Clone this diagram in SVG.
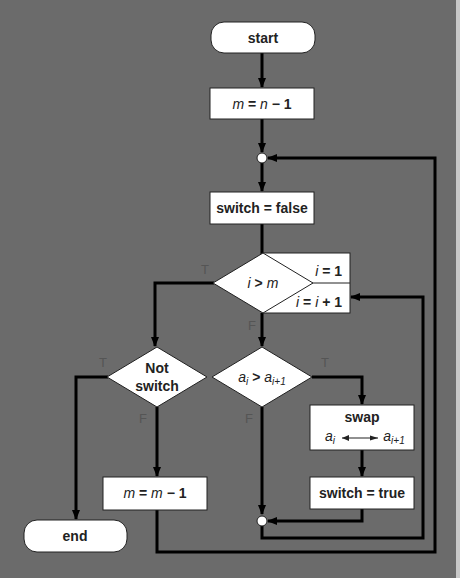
<svg xmlns="http://www.w3.org/2000/svg" width="460" height="578" viewBox="0 0 460 578">
<defs>
<marker id="ah" markerUnits="userSpaceOnUse" markerWidth="10" markerHeight="10" viewBox="0 0 10 10" refX="9" refY="5" orient="auto">
<path d="M0,1 L10,5 L0,9 z" fill="#000"/>
</marker>
<marker id="ah2" markerUnits="userSpaceOnUse" markerWidth="44" markerHeight="8" viewBox="0 0 10 10" refX="10" refY="5" orient="auto">
<path d="M0,2 L10,5 L0,8 z" fill="#222"/>
</marker>
</defs>
<style>
.bx{fill:#fff;stroke:#222;stroke-width:1}
.t{font-family:"Liberation Sans",Arial,sans-serif;font-size:14px;font-weight:bold;fill:#222;text-anchor:middle}
.i{font-style:italic;font-weight:normal}
.lb{font-family:"Liberation Sans",Arial,sans-serif;font-size:13px;fill:#555;text-anchor:middle}
.c{fill:none;stroke:#000;stroke-width:3;marker-end:url(#ah)}
.cn{fill:none;stroke:#000;stroke-width:3}
.dot{fill:#fff;stroke:#222;stroke-width:1}
</style>
<rect x="0" y="0" width="460" height="578" fill="#6b6b6b"/>
<rect x="456" y="0" width="4" height="578" fill="#c8c8c8"/>
<g id="connectors">
<path class="c" d="M262,53 V87"/>
<path class="c" d="M262,119 V152"/>
<path class="c" d="M262,163 V191"/>
<path class="cn" d="M262,224 V254"/>
<path class="c" d="M214,283 H155 V346"/>
<path class="c" d="M262,313 V346"/>
<path class="c" d="M108,377 H76 V519"/>
<path class="c" d="M157,407 V476"/>
<path class="c" d="M312,377 H362 V404"/>
<path class="c" d="M262,407 V514"/>
<path class="c" d="M362,450 V476"/>
<path class="c" d="M362,509 V521 H268"/>
<path class="c" d="M262,526 V538 H423 V297 H351"/>
<path class="c" d="M157,510 V552 H435 V158 H268"/>
</g>
<g id="start"><rect class="bx" x="211" y="22" width="104" height="31" rx="13"/><text class="t" x="263" y="43">start</text></g>
<g id="init"><rect class="bx" x="210" y="88" width="104" height="31"/><text class="t" x="262" y="109"><tspan class="i">m</tspan> = <tspan class="i">n</tspan> − 1</text></g>
<g id="join1"><circle class="dot" cx="262" cy="158" r="5"/></g>
<g id="switchfalse"><rect class="bx" x="210" y="192" width="104" height="32"/><text class="t" x="262" y="213">switch = false</text></g>
<g id="loopbox"><rect class="bx" x="263" y="253" width="87" height="60"/><line x1="300" y1="283" x2="350" y2="283" stroke="#222" stroke-width="1"/><text class="t" x="342" y="276" style="text-anchor:end"><tspan class="i">i</tspan> = 1</text><text class="t" x="342" y="307" style="text-anchor:end"><tspan class="i">i</tspan> = <tspan class="i">i</tspan> + 1</text></g>
<g id="cond1"><polygon class="bx" points="263,253 313,283 263,313 213,283"/><text class="t" x="263" y="288"><tspan class="i">i</tspan> &gt; <tspan class="i">m</tspan></text></g>
<g id="notswitch"><polygon class="bx" points="157,347 207,377 157,407 107,377"/><text class="t" x="157" y="373">Not</text><text class="t" x="157" y="391">switch</text></g>
<g id="cond2"><polygon class="bx" points="262,347 312,377 262,407 212,377"/><text class="t" x="262" y="382"><tspan class="i">a<tspan font-size="10" dy="3">i</tspan></tspan><tspan dy="-3"> &gt; </tspan><tspan class="i">a<tspan font-size="10" dy="3">i+1</tspan></tspan></text></g>
<g id="swap"><rect class="bx" x="310" y="405" width="104" height="45"/><text class="t" x="362" y="422">swap</text><text class="t" x="330" y="441"><tspan class="i">a<tspan font-size="10" dy="3">i</tspan></tspan></text><line x1="342" y1="438" x2="378" y2="438" stroke="#222" stroke-width="1.2" marker-end="url(#ah2)"/><path d="M342,438 l7,-3 v6 z" fill="#222"/><text class="t" x="394" y="441"><tspan class="i">a<tspan font-size="10" dy="3">i+1</tspan></tspan></text></g>
<g id="switchtrue"><rect class="bx" x="310" y="477" width="104" height="32"/><text class="t" x="362" y="498">switch = true</text></g>
<g id="join2"><circle class="dot" cx="262" cy="521" r="5"/></g>
<g id="decr"><rect class="bx" x="103" y="477" width="104" height="33"/><text class="t" x="155" y="498"><tspan class="i">m</tspan> = <tspan class="i">m</tspan> − 1</text></g>
<g id="end"><rect class="bx" x="24" y="520" width="103" height="32" rx="13"/><text class="t" x="75" y="541">end</text></g>
<g id="labels">
<text class="lb" x="205" y="274">T</text>
<text class="lb" x="252" y="330">F</text>
<text class="lb" x="103" y="367">T</text>
<text class="lb" x="143" y="423">F</text>
<text class="lb" x="249" y="423">F</text>
<text class="lb" x="325" y="367">T</text>
</g>
</svg>
